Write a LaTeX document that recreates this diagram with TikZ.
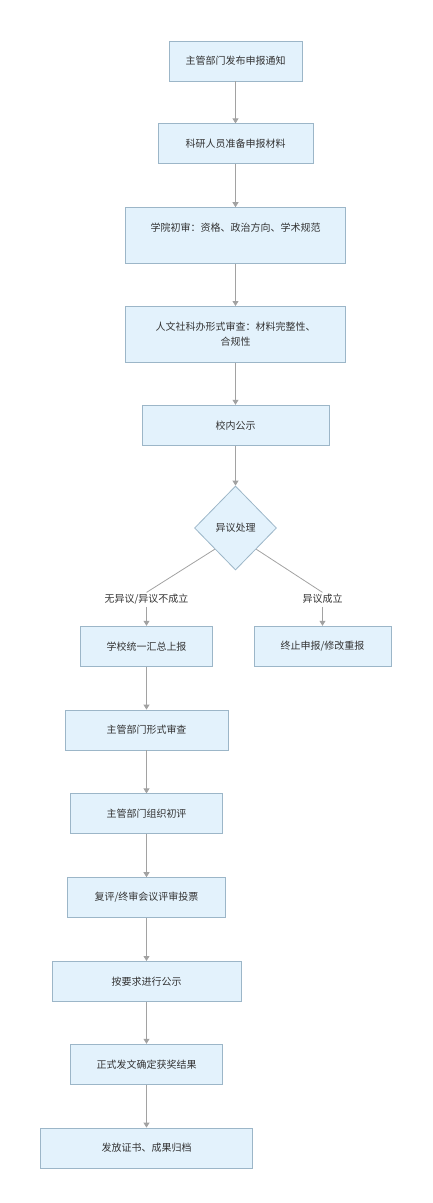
\documentclass[tikz,border=0pt]{standalone}
\usepackage{fontspec}
\setmainfont{Noto Sans CJK SC}
\usetikzlibrary{positioning,arrows.meta,shapes.geometric,backgrounds}
\definecolor{boxfill}{HTML}{E3F2FC}
\definecolor{boxline}{HTML}{9CB6C8}
\definecolor{arrgray}{HTML}{A2A2A2}
\definecolor{txtgray}{HTML}{333333}
\tikzstyle{stepbox}=[rectangle, draw=boxline, fill=boxfill, line width=0.8pt, minimum height=40pt,
inner sep=3pt, text centered, align=center, text=txtgray, font=\fontsize{10}{15}\selectfont]
\tikzstyle{tallbox}=[stepbox, minimum height=56pt]
\tikzstyle{decbox}=[diamond, aspect=1, draw=boxline, fill=boxfill, line width=0.8pt, minimum width=82pt,
minimum height=84pt, inner sep=0pt, text=txtgray, font=\fontsize{10}{12}\selectfont]
\tikzstyle{elabel}=[rectangle, fill=white, inner sep=2pt, text height=8pt, text depth=2pt, text=txtgray,
font=\fontsize{10}{12}\selectfont]
\tikzstyle{line}=[-, draw=arrgray, line width=0.8pt]
\tikzstyle{flow}=[-{Triangle[width=6pt,length=5pt]}, draw=arrgray, line width=0.8pt]

\begin{document}
\begin{tikzpicture}[node distance=0mm]
\useasboundingbox (0,0) rectangle (433pt,-1203pt);

    \node (notice) [stepbox, minimum width=133pt] at (235.5pt,-61pt) {主管部门发布申报通知};
    \node (prep) [stepbox, minimum width=155pt, below=42pt of notice] {科研人员准备申报材料};
    \node (college) [tallbox, minimum width=220pt, below=43pt of prep] {学院初审：资格、政治方向、学术规范\\[2pt]};
    \node (office) [tallbox, minimum width=220pt, below=42pt of college] {人文社科办形式审查：材料完整性、\\合规性};
    \node (pub) [stepbox, minimum width=187pt, below=42pt of office] {校内公示};
    \node (dia) [decbox, below=40pt of pub] {异议处理};

%branches
    \node (nobj) [elabel, below=22pt of dia, xshift=-89pt] {无异议/异议不成立};
    \node (obj) [elabel, below=22pt of dia, xshift=87pt] {异议成立};
    \node (school) [stepbox, minimum width=132pt, below=19pt of nobj] {学校统一汇总上报};
    \node (stop) [stepbox, minimum width=137pt, below=19pt of obj] {终止申报/修改重报};

	\node(formal)[stepbox, minimum width=163pt, below=43pt of school]{主管部门形式审查};
	\node(first)[stepbox, minimum width=152pt, below=43pt of formal]{主管部门组织初评};
	\node(vote)[stepbox, minimum width=158pt, below=43pt of first]{复评/终审会议评审投票};
	\node(pub2)[stepbox, minimum width=189pt, below=43pt of vote]{按要求进行公示};
	\node(result)[stepbox, minimum width=152pt, below=42pt of pub2]{正式发文确定获奖结果};
	\node(archive)[stepbox, minimum width=212pt, below=43pt of result]{发放证书、成果归档};
%Lines ..

   \draw[flow] (notice.south) -- (prep.north);
   \draw[flow] (prep.south) -- (college.north);
   \draw[flow] (college.south) -- (office.north);
   \draw[flow] (office.south) -- (pub.north);
   \draw[flow] (pub.south) -- (dia.north);

%decision, lines go under the labels
\begin{scope}[on background layer]
\draw[line] (dia.south west) -- (nobj.north);
\draw[line] (dia.south east) -- (obj.north);
\end{scope}
\draw[flow] (nobj.south) -- (school.north);
\draw[flow] (obj.south) -- (stop.north);

  \draw[flow] (school.south) -- (formal.north);
  \draw[flow] (formal.south) -- (first.north);
  \draw[flow] (first.south) -- (vote.north);
  \draw[flow] (vote.south) -- (pub2.north);
  \draw[flow] (pub2.south) -- (result.north);
  \draw[flow] (result.south) -- (archive.north);

\end{tikzpicture}
\end{document}
